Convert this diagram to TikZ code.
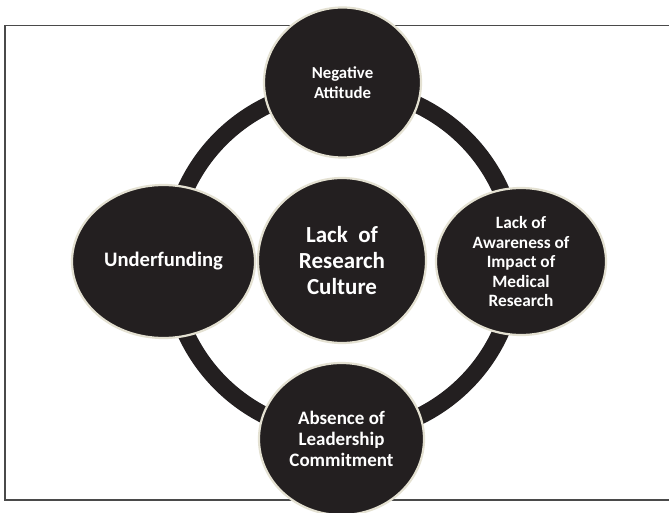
\documentclass[tikz,border=0pt]{standalone}
\usepackage{fontspec}
\setmainfont{Carlito}
\usetikzlibrary{shapes.geometric}
\definecolor{blob}{HTML}{231F20}
\definecolor{rim}{HTML}{E4E1D2}
\definecolor{frame}{HTML}{4A4A4A}
\tikzset{
  blobnode/.style={ellipse, fill=blob, draw=rim, line width=2.2pt, inner sep=0pt,
    text=white, align=center, font=\bfseries},
}
\begin{document}
\begin{tikzpicture}[x=1pt,y=-1pt]
\useasboundingbox (0,0) rectangle (669,513);
\clip (0,0) rectangle (669,513);
\fill[white] (0,0) rectangle (669,513);
% frame (right side runs past the picture)
\draw[frame, line width=1.3pt] (680,25.7) -- (5,25.7) -- (5,500) -- (680,500);
% ring
\node[circle, minimum size=346pt, inner sep=0pt, draw=blob, line width=17pt] (ring) at (343,261) {};
% circles
\node[blobnode, minimum width=157pt, minimum height=150pt,
  font=\bfseries\fontsize{16.8}{20}\selectfont] (top) at (342.5,82.5) {Negative\\Attitude};
\node[blobnode, minimum width=168pt, minimum height=165pt,
  font=\bfseries\fontsize{23}{25.7}\selectfont] (mid) at (342,260.5) {Lack\ \ of\\Research\\Culture};
\node[blobnode, minimum width=183pt, minimum height=153pt,
  font=\bfseries\fontsize{20.6}{24}\selectfont] (left) at (163.5,261.5) {Underfunding};
\node[blobnode, minimum width=170pt, minimum height=147pt,
  font=\bfseries\fontsize{17.3}{19.5}\selectfont] (right) at (521,261.5) {Lack of\\Awareness of\\Impact of\\Medical\\Research};
\node[blobnode, minimum width=165pt, minimum height=152pt,
  font=\bfseries\fontsize{19}{21.2}\selectfont] (bot) at (341.5,439) {Absence of\\Leadership\\Commitment};
\end{tikzpicture}
\end{document}
